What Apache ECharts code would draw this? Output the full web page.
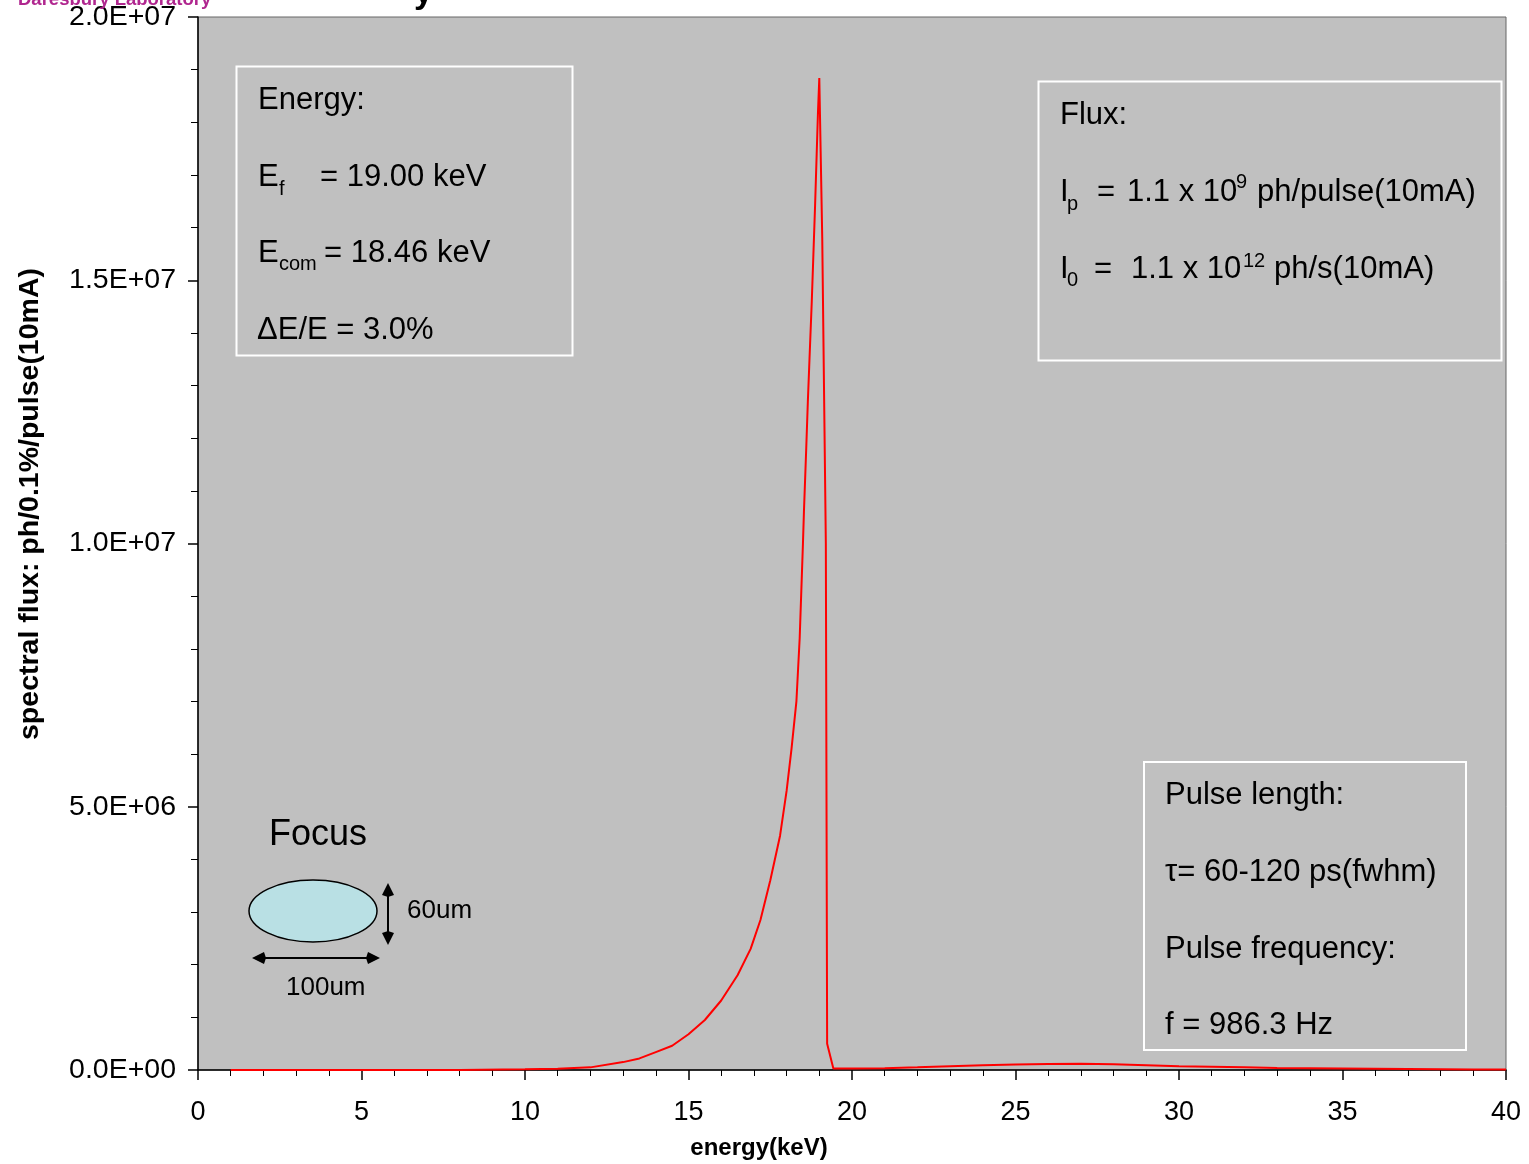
<!DOCTYPE html>
<html><head><meta charset="utf-8">
<script src="https://cdn.jsdelivr.net/npm/echarts@6/dist/echarts.min.js"></script>
<style>html,body{margin:0;padding:0;background:#fff}#c{width:1529px;height:1164px}</style>
</head><body><div id="c"></div>
<script>
// energy (keV) and spectral flux (ph/0.1%/pulse(10mA))
const energy = [1, 5, 8, 10, 11, 12, 13, 13.5, 14, 14.5, 15, 15.5, 16, 16.5, 16.9, 17.2, 17.5, 17.8, 18.0, 18.15, 18.3, 18.4, 18.45, 18.5, 18.53, 18.6, 18.65, 18.7, 18.77, 18.82, 18.87, 18.92, 18.96, 19.0, 19.09, 19.2, 19.24, 19.27, 19.3, 19.43, 20, 21, 22, 23, 24, 25, 26, 27, 28, 29, 30, 31, 32, 33, 34, 35, 36, 37, 38, 39, 40];
const flux = [0, 0, 2e3, 1.2e4, 2.5e4, 5e4, 1.5e5, 2.2e5, 3.4e5, 4.6e5, 6.8e5, 9.5e5, 1.32e6, 1.8e6, 2.3e6, 2.85e6, 3.6e6, 4.45e6, 5.3e6, 6.1e6, 7.0e6, 8.2e6, 9.1e6, 1.0e7, 1.06e7, 1.18e7, 1.27e7, 1.35e7, 1.46e7, 1.55e7, 1.64e7, 1.74e7, 1.82e7, 1.884e7, 1.58e7, 1.0e7, 5.0e5, 5.0e5, 5.3e5, 3e4, 3e4, 3.5e4, 5e4, 7e4, 9e4, 1.05e5, 1.15e5, 1.2e5, 1.1e5, 9e4, 7e4, 6e4, 5e4, 4e4, 3.5e4, 3e4, 2.5e4, 2e4, 1.5e4, 1e4, 8e3];
const xTicks = {min: 0, max: 40, interval: 5};
const yTicks = {min: 0, max: 2e7, interval: 5e6};
const xTitle = 'energy(keV)';
const yTitle = 'spectral flux: ph/0.1%/pulse(10mA)';

const FONT = '"Liberation Sans", Arial, sans-serif';
const BIG = 31, SUB = 20, DY = 2;
function fmt(v){
  const s = v.toExponential(1);
  const parts = s.split('e');
  const sign = parts[1][0];
  const d = parts[1].slice(1).padStart(2, '0');
  return parts[0] + 'E' + sign + d;
}
function T(text, x, y, size, opts){
  opts = opts || {};
  return {type: 'text', z: 100, x: x, y: y + (opts.noShift ? 0 : DY), rotation: opts.rotation || 0,
    style: {text: text, x: 0, y: 0, font: (opts.bold ? 'bold ' : '') + size + 'px ' + FONT,
      fill: opts.color || '#000', textAlign: opts.align || 'left', align: opts.align || 'left',
      textVerticalAlign: 'middle', verticalAlign: 'middle'}};
}
function box(x, y, w, h){
  return {type: 'rect', z: 90, shape: {x: x, y: y, width: w, height: h}, style: {fill: 'none', stroke: '#ffffff', lineWidth: 2}};
}
function arrowHead(tx, ty, dx, dy){
  const L = 12, W = 6;
  const bx = tx - dx * L, by = ty - dy * L;
  const px = -dy, py = dx;
  return {type: 'polygon', z: 100, shape: {points: [[tx, ty], [bx + px * W, by + py * W], [bx - dx * 2, by - dy * 2], [bx - px * W, by - py * W]]}, style: {fill: '#000'}};
}

const graphic = [
  T('Daresbury Laboratory', 18, 0, 18.5, {bold: true, color: '#B0268F', noShift: true}),
  T('y', 414, -6, 34, {bold: true, noShift: true}),
  T(yTitle, 30, 504, 28.5, {bold: true, rotation: Math.PI / 2, align: 'center', noShift: true}),
  T(xTitle, 759, 1148, 24, {bold: true, align: 'center', noShift: true}),
  // Energy box
  box(236.5, 66.5, 336, 289),
  T('Energy:', 258, 98, BIG),
  T('E', 258, 175, BIG), T('f', 279, 187, SUB), T('= 19.00 keV', 320, 175, BIG),
  T('E', 258, 251, BIG), T('com', 279, 262, SUB), T('= 18.46 keV', 324, 251, BIG),
  T('\u0394E/E = 3.0%', 257, 328, BIG),
  // Flux box
  box(1038.5, 81.5, 463, 279),
  T('Flux:', 1060, 113, BIG),
  T('I', 1060, 190, BIG), T('p', 1067, 202, SUB), T('=', 1097, 190, BIG), T('1.1 x 10', 1127, 190, BIG), T('9', 1236, 180, SUB), T('ph/pulse(10mA)', 1257, 190, BIG),
  T('I', 1060, 267, BIG), T('0', 1067, 278, SUB), T('=', 1094, 267, BIG), T('1.1 x 10', 1131, 267, BIG), T('12', 1243, 259, SUB), T('ph/s(10mA)', 1274, 267, BIG),
  // Pulse box
  box(1144, 762, 322, 288),
  T('Pulse length:', 1165, 793, BIG),
  T('\u03C4= 60-120 ps(fwhm)', 1165, 870, BIG),
  T('Pulse frequency:', 1165, 947, BIG),
  T('f = 986.3 Hz', 1165, 1023, BIG),
  // Focus sketch
  T('Focus', 269, 833, 36),
  {type: 'ellipse', z: 95, shape: {cx: 313, cy: 911, rx: 64, ry: 31}, style: {fill: '#B9E0E4', stroke: '#000', lineWidth: 1.5}},
  {type: 'line', z: 100, shape: {x1: 388, y1: 888, x2: 388, y2: 940}, style: {stroke: '#000', lineWidth: 2}},
  arrowHead(388, 883, 0, -1), arrowHead(388, 945, 0, 1),
  {type: 'line', z: 100, shape: {x1: 258, y1: 958, x2: 374, y2: 958}, style: {stroke: '#000', lineWidth: 2}},
  arrowHead(252, 958, -1, 0), arrowHead(380, 958, 1, 0),
  T('60um', 407, 909, 26),
  T('100um', 286, 986, 26)
];

const chart = echarts.init(document.getElementById('c'), null, {renderer: 'canvas'});
chart.setOption({
  animation: false,
  backgroundColor: '#ffffff',
  grid: {left: 198, right: 23, top: 17, bottom: 94, show: true, backgroundColor: '#C0C0C0', borderColor: '#666', borderWidth: 1},
  xAxis: {type: 'value', min: xTicks.min, max: xTicks.max, interval: xTicks.interval,
    axisLine: {show: true, lineStyle: {color: '#000', width: 1.5}},
    axisTick: {show: true, inside: false, length: 10, lineStyle: {color: '#000', width: 1.5}},
    minorTick: {show: true, splitNumber: 5, length: 6, lineStyle: {color: '#000', width: 1}},
    splitLine: {show: false},
    axisLabel: {color: '#000', fontSize: 27, fontFamily: FONT, margin: 29}},
  yAxis: {type: 'value', min: yTicks.min, max: yTicks.max, interval: yTicks.interval,
    axisLine: {show: true, lineStyle: {color: '#000', width: 1.5}},
    axisTick: {show: true, inside: false, length: 10, lineStyle: {color: '#000', width: 1.5}},
    minorTick: {show: true, splitNumber: 5, length: 7, lineStyle: {color: '#000', width: 1}},
    splitLine: {show: false},
    axisLabel: {color: '#000', fontSize: 28.5, fontFamily: FONT, margin: 22, padding: [4, 0, 0, 0], formatter: fmt}},
  series: [{type: 'line', data: energy.map((e, i) => [e, flux[i]]), showSymbol: false, symbol: 'none',
    lineStyle: {color: '#FF0000', width: 2}, z: 10}],
  graphic: graphic
});
</script>
</body></html>
